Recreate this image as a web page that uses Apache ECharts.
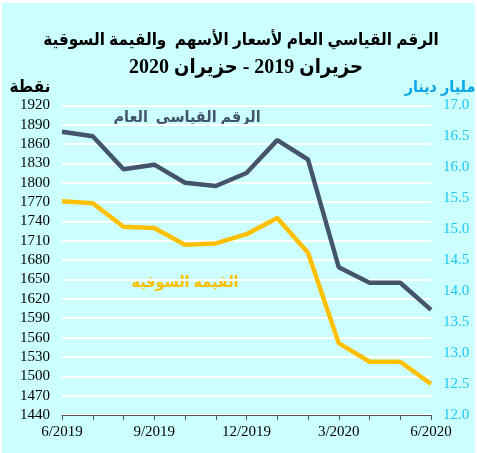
<!DOCTYPE html>
<html><head><meta charset="utf-8">
<script src="https://cdn.jsdelivr.net/npm/echarts@6/dist/echarts.min.js"></script>
<style>html,body{margin:0;padding:0;background:#fff;}#c{position:absolute;left:2px;top:3px;width:473px;height:450px;}</style>
</head><body><div id="c"></div>
<script>
var months = ['6/2019','7/2019','8/2019','9/2019','10/2019','11/2019','12/2019','1/2020','2/2020','3/2020','4/2020','5/2020','6/2020'];
var indexValues = [1879, 1872, 1821, 1828, 1800, 1795, 1815, 1866, 1836, 1669, 1645, 1645, 1603];
var marketValues = [15.45, 15.42, 15.04, 15.02, 14.75, 14.77, 14.92, 15.18, 14.62, 13.16, 12.86, 12.86, 12.50];
var shownMonthLabels = ['6/2019','9/2019','12/2019','3/2020','6/2020'];
var titleLine1 = 'الرقم القياسي العام لأسعار الأسهم  والقيمة السوقية';
var titleLine2 = 'حزيران 2019 - حزيران 2020';
var leftAxisName = 'نقطة';
var rightAxisName = 'مليار دينار';
var indexName = 'الرقم القياسي  العام';
var marketName = 'القيمة السوقية';

var serif = '"Liberation Serif","Times New Roman",serif';
var mixed = '"Liberation Serif","DejaVu Sans Condensed","DejaVu Sans",serif';
var chart = echarts.init(document.getElementById('c'), null, {renderer:'canvas'});
chart.setOption({
  backgroundColor: '#ccffff',
  animation: false,
  grid: {left: 60, right: 44, top: 102.3, bottom: 38},
  xAxis: {
    type: 'category', data: months, boundaryGap: false,
    axisLine: {lineStyle: {color: '#555', width: 1}},
    axisTick: {show: true, interval: 0, length: 5, lineStyle: {color: '#555'}},
    axisLabel: {interval: 0, color: '#000', fontFamily: serif, fontSize: 15, margin: 10,
      formatter: function(v){ return shownMonthLabels.indexOf(v) >= 0 ? v : ''; }},
    splitLine: {show: false}
  },
  yAxis: [{
    type: 'value', min: 1440, max: 1920, interval: 30, position: 'left',
    axisLine: {show: false}, axisTick: {show: false},
    axisLabel: {color: '#000', fontFamily: serif, fontSize: 15, margin: 12,
      formatter: function(v){ return String(v); }},
    splitLine: {show: true, lineStyle: {color: '#ffffff', width: 2}}
  }, {
    type: 'value', min: 12, max: 17, interval: 0.5, position: 'right',
    axisLine: {show: false}, axisTick: {show: false},
    axisLabel: {color: '#1ec8f5', fontFamily: serif, fontSize: 15, margin: 12,
      formatter: function(v){ return v.toFixed(1); }},
    splitLine: {show: false}
  }],
  series: [{
    name: indexName, type: 'line', yAxisIndex: 0, data: indexValues,
    symbol: 'none', lineStyle: {color: '#44546a', width: 4.5}, itemStyle: {color: '#44546a'}, z: 3
  }, {
    name: marketName, type: 'line', yAxisIndex: 1, data: marketValues,
    symbol: 'none', lineStyle: {color: '#ffc000', width: 4.5}, itemStyle: {color: '#ffc000'}, z: 3
  }],
  graphic: [
    {type: 'text', x: 239, y: 38, style: {text: titleLine1, font: 'bold 17px ' + mixed, fill: '#000', textAlign: 'center', textVerticalAlign: 'middle'}},
    {type: 'text', x: 244, y: 65, style: {text: titleLine2, font: 'bold 20px ' + mixed, fill: '#000', textAlign: 'center', textVerticalAlign: 'middle'}},
    {type: 'text', x: 28, y: 85, style: {text: leftAxisName, font: 'bold 17px ' + mixed, fill: '#000', textAlign: 'center', textVerticalAlign: 'middle'}},
    {type: 'text', x: 438, y: 85, style: {text: rightAxisName, font: 'bold 16px ' + mixed, fill: '#0aa6e6', textAlign: 'center', textVerticalAlign: 'middle'}},
    {type: 'text', x: 185, y: 115, style: {text: indexName, font: 'bold 16px ' + mixed, fill: '#44546a', textAlign: 'center', textVerticalAlign: 'middle'}},
    {type: 'text', x: 183, y: 280, style: {text: marketName, font: 'bold 16px ' + mixed, fill: '#ffc000', textAlign: 'center', textVerticalAlign: 'middle'}}
  ]
});
</script></body></html>
